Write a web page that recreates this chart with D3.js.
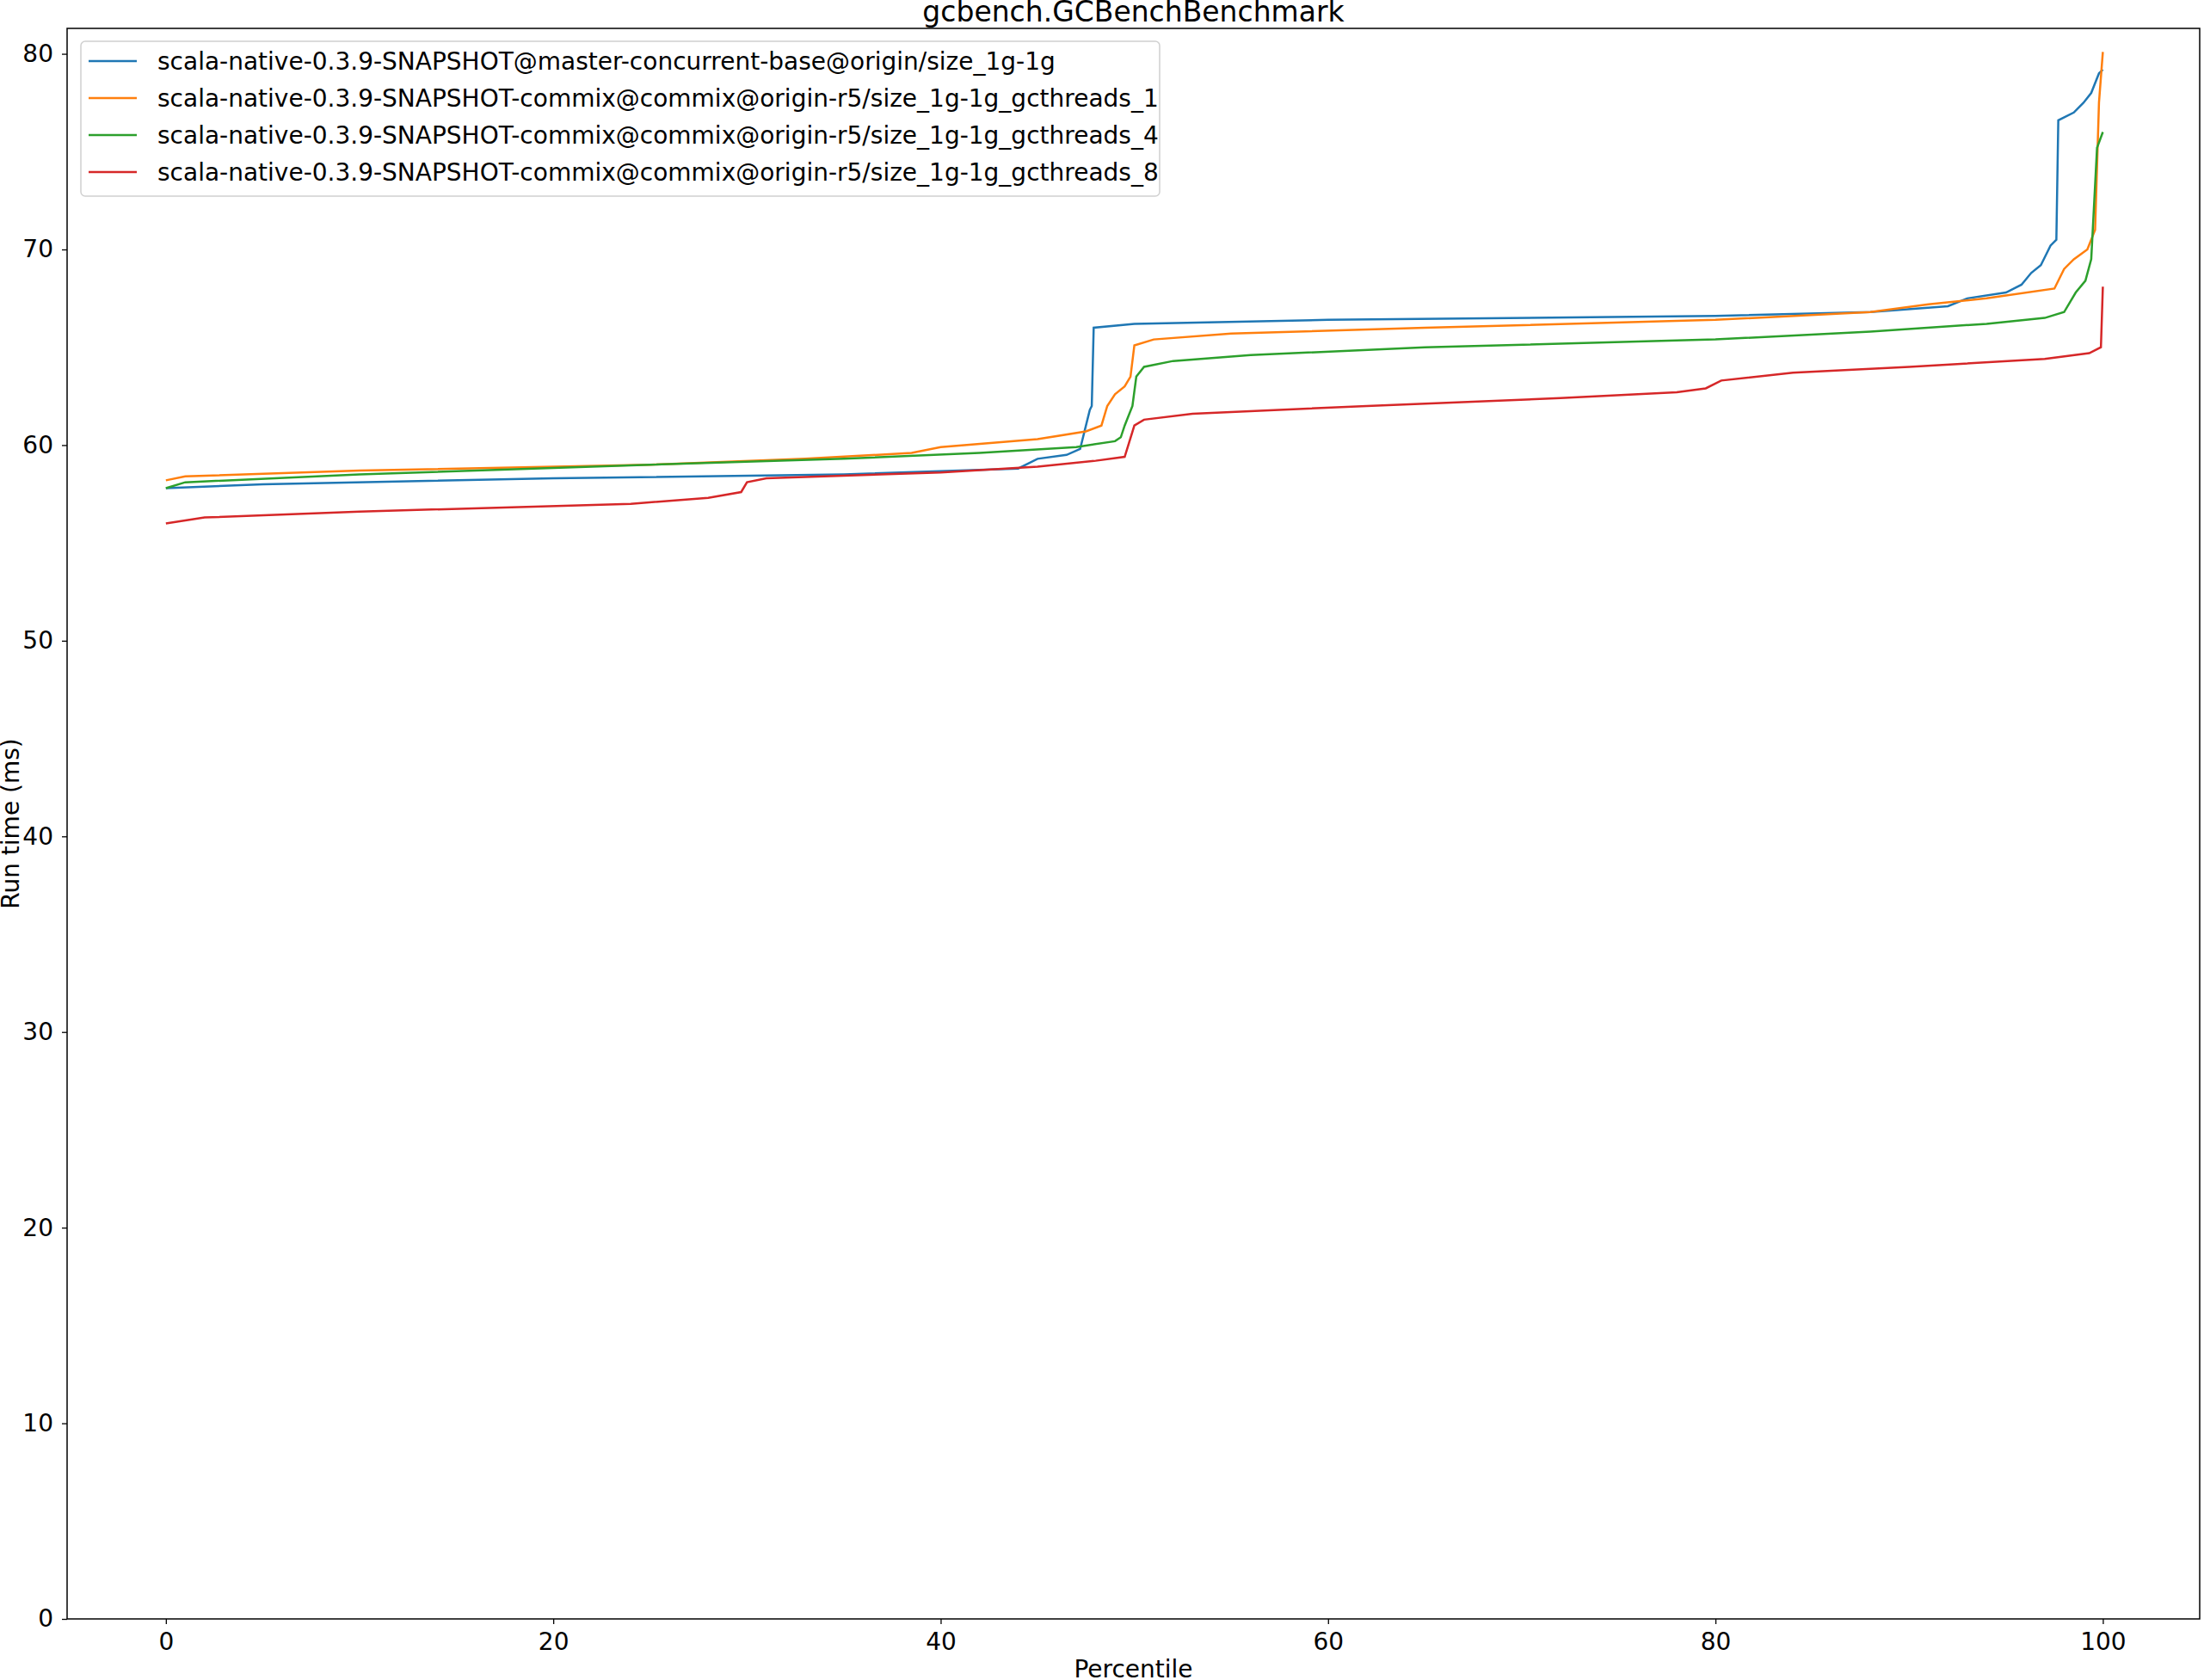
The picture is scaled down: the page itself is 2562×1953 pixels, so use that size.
<!DOCTYPE html>
<html>
<head>
<meta charset="utf-8">
<script src="https://cdn.jsdelivr.net/npm/d3@7"></script>
<style>
  body { margin: 0; background: #fff; }
  text { font-family: "DejaVu Sans", sans-serif; fill: #000; }
</style>
</head>
<body>
<div id="chart"></div>
<script>
// series names
const seriesNames = [
    'scala-native-0.3.9-SNAPSHOT@master-concurrent-base@origin/size_1g-1g',
    'scala-native-0.3.9-SNAPSHOT-commix@commix@origin-r5/size_1g-1g_gcthreads_1',
    'scala-native-0.3.9-SNAPSHOT-commix@commix@origin-r5/size_1g-1g_gcthreads_4',
    'scala-native-0.3.9-SNAPSHOT-commix@commix@origin-r5/size_1g-1g_gcthreads_8'
];
const colors = ['#1f77b4', '#ff7f0e', '#2ca02c', '#d62728'];

// [percentile, ms]
const blue = [[0,57.8],[5,58.0],[20,58.3],[35,58.5],[44,58.8],[45,59.3],[46.5,59.5],[47.2,59.8],[47.7,61.8],[47.8,62.0],[47.9,66.0],[50,66.2],[60,66.4],[80,66.6],[88,66.8],[92,67.1],[93,67.5],[95,67.8],[95.8,68.2],[96.3,68.8],[96.8,69.2],[97.3,70.2],[97.6,70.5],[97.7,76.6],[98.5,77.0],[99,77.5],[99.4,78.0],[99.8,79.0],[100,79.2]];
const orange = [[0,58.2],[1,58.4],[10,58.7],[25,59.0],[33,59.3],[38.5,59.6],[40,59.9],[45,60.3],[47.5,60.7],[48.3,61.0],[48.6,62.0],[49,62.6],[49.5,63.0],[49.8,63.5],[50,65.1],[51,65.4],[55,65.7],[65,66.0],[80,66.4],[88,66.8],[91,67.2],[94,67.5],[97.5,68.0],[98,69.0],[98.5,69.5],[99.2,70.0],[99.6,71.0],[99.8,77.5],[100,80.1]];
const green = [[0,57.8],[1,58.1],[10,58.5],[25,59.0],[35,59.3],[42,59.6],[47,59.9],[49,60.2],[49.3,60.4],[49.5,61.0],[49.9,62.0],[50.1,63.5],[50.5,64.0],[52,64.3],[56,64.6],[65,65.0],[80,65.4],[88,65.8],[94,66.2],[97,66.5],[98,66.8],[98.6,67.8],[99.1,68.4],[99.4,69.5],[99.7,75.2],[100,76.0]];
const red = [[0,56.0],[2,56.3],[10,56.6],[24,57.0],[28,57.3],[29.7,57.6],[30,58.1],[31,58.3],[40,58.6],[45,58.9],[48,59.2],[49.5,59.4],[50,61.0],[50.5,61.3],[53,61.6],[62,62.0],[72,62.4],[78,62.7],[79.5,62.9],[80.3,63.3],[84,63.7],[90,64.0],[97,64.4],[99.3,64.7],[99.9,65.0],[100,68.1]];
const series = [blue, orange, green, red];

const xTicks = [0, 20, 40, 60, 80, 100];
const yTicks = [0, 10, 20, 30, 40, 50, 60, 70, 80];

const W = 2562, H = 1953;
const plot = { left: 78, right: 2557, top: 33, bottom: 1882 };

const x = d3.scaleLinear().domain([-5.1, 105]).range([plot.left, plot.right]);
const y = d3.scaleLinear().domain([0, 81.3]).range([plot.bottom, plot.top]);

const svg = d3.select('#chart').append('svg')
    .attr('width', W).attr('height', H);

// axes
const xAxis = svg.append('g')
    .attr('transform', `translate(0, ${plot.bottom})`)
    .call(d3.axisBottom(x).tickValues(xTicks).tickSize(6).tickPadding(10));
const yAxis = svg.append('g')
    .attr('transform', `translate(${plot.left}, 0)`)
    .call(d3.axisLeft(y).tickValues(yTicks).tickSize(6).tickPadding(10));
[xAxis, yAxis].forEach(a => {
    a.select('.domain').remove();
    a.selectAll('text').style('font-size', '28px').style('font-family', '"DejaVu Sans", sans-serif');
    a.selectAll('line').attr('stroke-width', 1.3);
});

// lines
const line = d3.line().x(d => x(d[0])).y(d => y(d[1]));
svg.append('g').selectAll('path').data(series).enter().append('path')
    .attr('d', line)
    .attr('fill', 'none')
    .attr('stroke', (d, i) => colors[i])
    .attr('stroke-width', 2.5);

// frame
svg.append('rect')
    .attr('x', plot.left).attr('y', plot.top)
    .attr('width', plot.right - plot.left).attr('height', plot.bottom - plot.top)
    .attr('fill', 'none').attr('stroke', '#000').attr('stroke-width', 1.5);

// titles
svg.append('text').attr('x', (plot.left + plot.right) / 2).attr('y', 25)
    .attr('text-anchor', 'middle').style('font-size', '33px').text('gcbench.GCBenchBenchmark');
svg.append('text').attr('x', (plot.left + plot.right) / 2).attr('y', 1950)
    .attr('text-anchor', 'middle').style('font-size', '28px').text('Percentile');
svg.append('text')
    .attr('transform', `translate(22, ${(plot.top + plot.bottom) / 2}) rotate(-90)`)
    .attr('text-anchor', 'middle').style('font-size', '28px').text('Run time (ms)');

// legend
const lg = svg.append('g');
lg.append('rect').attr('x', 94).attr('y', 48).attr('width', 1254).attr('height', 180)
    .attr('rx', 5).attr('fill', '#fff').attr('fill-opacity', 0.8)
    .attr('stroke', '#d0d0d0').attr('stroke-width', 1.5);
seriesNames.forEach((name, i) => {
    const yy = 71 + i * 43;
    lg.append('line').attr('x1', 103).attr('x2', 159).attr('y1', yy).attr('y2', yy)
        .attr('stroke', colors[i]).attr('stroke-width', 2.5);
    lg.append('text').attr('x', 183).attr('y', yy).attr('dy', '0.35em')
        .style('font-size', '28px').text(name);
});
</script>
</body>
</html>
